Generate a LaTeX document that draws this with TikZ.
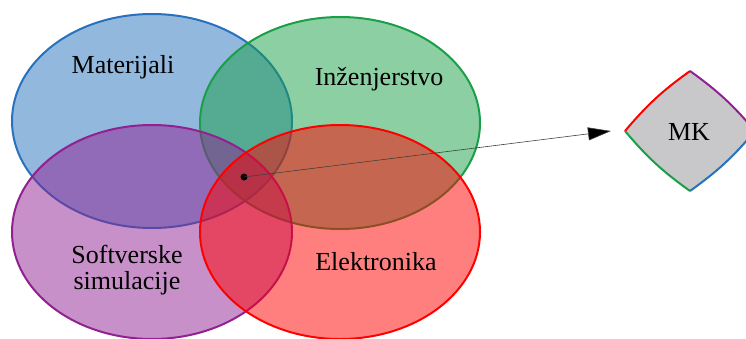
\documentclass[tikz,border=0pt]{standalone}
\usepackage{fontspec}
\setmainfont{Liberation Serif}
\usetikzlibrary{arrows.meta}
\definecolor{cblue}{RGB}{39,113,189}
\definecolor{cgreen}{RGB}{25,159,71}
\definecolor{cpurple}{RGB}{145,33,145}
\definecolor{cred}{RGB}{255,0,0}
\definecolor{cgray}{RGB}{200,200,202}
\begin{document}
\begin{tikzpicture}[x=1pt,y=-1pt,
  setfield/.style={line width=2pt,fill opacity=0.5},
  lbl/.style={font=\fontsize{26}{30}\selectfont,align=center,inner sep=0pt},
  mkedge/.style={line width=2pt},
  side/.style={bend left=7},
  link/.style={draw=black!75,line width=0.6pt,-{Triangle[length=23pt,width=13pt,fill=black]}}]
\useasboundingbox (0,0) rectangle (746,338);
% four overlapping fields
\filldraw[setfield,draw=cblue,fill=cblue] (152,121) ellipse [x radius=140,y radius=107];
\filldraw[setfield,draw=cgreen,fill=cgreen] (340,123) ellipse [x radius=140,y radius=106];
\filldraw[setfield,draw=cpurple,fill=cpurple] (152,232) ellipse [x radius=140,y radius=107];
\filldraw[setfield,draw=cred,fill=cred] (340,232) ellipse [x radius=140,y radius=107];
% field labels
\node[lbl] (mat) at (123,67) {Materijali};
\node[lbl] (inz) at (379,79) {Inženjerstvo};
\node[lbl] (soft) at (127,270) {Softverske\\[-4pt]simulacije};
\node[lbl] (ele) at (376,262) {Elektronika};
% result shape with four coloured, slightly bulging sides
\coordinate (mkL) at (625,131);
\coordinate (mkT) at (690,71);
\coordinate (mkB) at (690,191);
\coordinate (mkR) at (755,131);
\fill[cgray] (mkL) to[side] (mkT) to[side] (mkR) to[side] (mkB) to[side] cycle;
\draw[mkedge,cred] (mkL) to[side] (mkT);
\draw[mkedge,cpurple] (mkT) to[side] (mkR);
\draw[mkedge,cblue] (mkR) to[side] (mkB);
\draw[mkedge,cgreen] (mkB) to[side] (mkL);
\node[lbl] (mk) at (689,132) {MK};
% common intersection point and link
\node[circle,fill=black,inner sep=0pt,minimum size=7pt] (dot) at (244,177) {};
\draw[link] (dot.center) -- ([xshift=-14pt]mkL);
\end{tikzpicture}
\end{document}
